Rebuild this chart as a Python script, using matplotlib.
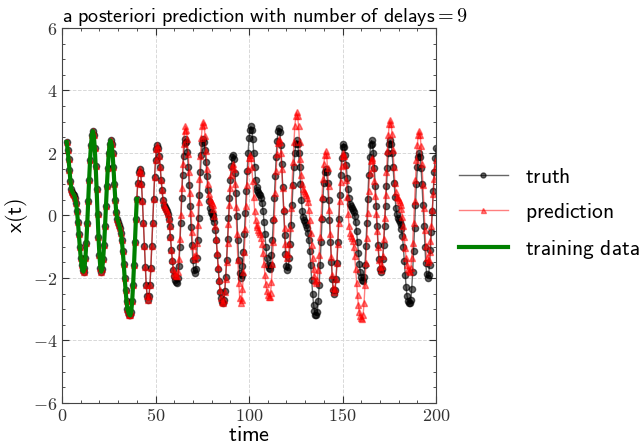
import numpy as np
import matplotlib
matplotlib.use('Agg')
import matplotlib.pyplot as plt
from matplotlib.ticker import MultipleLocator, FuncFormatter

plt.rcParams['mathtext.fontset'] = 'cm'

# sampling of the series
t_start = 2.5
dt = 0.5
t_end = 200.0

truth = [
    2.35, 2.1, 1.8, 1.45, 1.1, 0.85, 0.75, 0.7, 0.65, 0.55, 0.4, 0.15, -0.2, -0.6, -1.0, -1.35, -1.6, -1.75, -1.8,
    -1.69, -1.37, -0.87, -0.25, 0.45, 1.15, 1.77, 2.27, 2.59, 2.7,
    2.57, 2.17, 1.58, 0.84, 0.06, -0.68, -1.27, -1.67, -1.8,
    -1.7, -1.4, -0.93, -0.35, 0.3, 0.95, 1.53, 2.0, 2.3, 2.4,
    2.3, 2.0, 1.55, 1.0, 0.5, 0.1, -0.1, -0.2, -0.3, -0.4, -0.55, -0.8, -1.15, -1.55, -2.0, -2.4, -2.75, -3.0, -3.1, -3.18, -3.2,
    -3.09, -2.75, -2.23, -1.58, -0.85, -0.12, 0.53, 1.05, 1.39, 1.5,
    1.37, 1.01, 0.45, -0.23, -0.97, -1.65, -2.21, -2.57, -2.7,
    -2.58, -2.23, -1.68, -0.99, -0.23, 0.54, 1.23, 1.78, 2.13, 2.25,
    2.15, 1.9, 1.55, 1.15, 0.8, 0.5, 0.35, 0.28, 0.22, 0.15, 0.05, -0.1, -0.35, -0.7, -1.1, -1.45, -1.75, -1.95, -2.08, -2.13, -2.15,
    -2.01, -1.61, -1.0, -0.25, 0.55, 1.3, 1.91, 2.31, 2.45,
    2.35, 2.04, 1.56, 0.97, 0.3, -0.37, -0.96, -1.44, -1.75, -1.85,
    -1.72, -1.35, -0.78, -0.07, 0.67, 1.38, 1.95, 2.32, 2.45,
    2.35, 2.1, 1.7, 1.25, 0.8, 0.45, 0.25, 0.12, 0.05, 0.0, -0.08, -0.2, -0.45, -0.8, -1.25, -1.7, -2.1, -2.45, -2.65, -2.77, -2.8,
    -2.71, -2.43, -1.98, -1.41, -0.76, -0.09, 0.56, 1.13, 1.57, 1.86, 1.95,
    1.8, 1.37, 0.73, -0.03, -0.78, -1.42, -1.85, -2.0,
    -1.9, -1.62, -1.16, -0.58, 0.08, 0.77, 1.43, 2.01, 2.47, 2.75, 2.85,
    2.75, 2.45, 2.0, 1.55, 1.15, 0.9, 0.8, 0.75, 0.7, 0.65, 0.55, 0.4, 0.15, -0.2, -0.6, -1.0, -1.35, -1.57, -1.67, -1.7,
    -1.59, -1.27, -0.77, -0.15, 0.55, 1.25, 1.87, 2.37, 2.69, 2.8,
    2.66, 2.27, 1.66, 0.92, 0.13, -0.61, -1.22, -1.61, -1.75,
    -1.65, -1.36, -0.9, -0.32, 0.33, 0.97, 1.54, 2.01, 2.3, 2.4,
    2.3, 2.0, 1.55, 1.0, 0.5, 0.15, -0.05, -0.15, -0.22, -0.3, -0.4, -0.55, -0.8, -1.15, -1.6, -2.05, -2.5, -2.85, -3.07, -3.17, -3.2,
    -3.09, -2.75, -2.23, -1.58, -0.85, -0.12, 0.53, 1.05, 1.39, 1.5,
    1.38, 1.03, 0.5, -0.15, -0.85, -1.5, -2.03, -2.38, -2.5,
    -2.38, -2.04, -1.51, -0.84, -0.1, 0.64, 1.31, 1.84, 2.18, 2.3,
    2.2, 1.95, 1.6, 1.2, 0.85, 0.55, 0.38, 0.3, 0.24, 0.18, 0.1, -0.02, -0.2, -0.5, -0.85, -1.2, -1.55, -1.8, -1.98, -2.07, -2.1,
    -1.97, -1.57, -0.98, -0.24, 0.54, 1.28, 1.87, 2.27, 2.4,
    2.3, 2.0, 1.53, 0.95, 0.3, -0.35, -0.93, -1.4, -1.7, -1.8,
    -1.7, -1.4, -0.93, -0.35, 0.3, 0.95, 1.53, 2.0, 2.3, 2.4,
    2.3, 2.0, 1.55, 1.05, 0.6, 0.25, 0.05, -0.08, -0.15, -0.22, -0.3, -0.42, -0.65, -1.0, -1.45, -1.9, -2.3, -2.58, -2.73, -2.79, -2.8,
    -2.69, -2.34, -1.81, -1.14, -0.4, 0.34, 1.01, 1.54, 1.88, 2.0,
    1.88, 1.53, 1.0, 0.35, -0.35, -1.0, -1.53, -1.88, -2.0,
    -1.9, -1.6, -1.12, -0.53, 0.13, 0.78, 1.38, 1.85, 2.15,
]

# prediction follows the truth exactly until t = 59, then drifts away
t_split = 59.0
prediction_tail = [
    -1.42, -1.7, -1.85, -1.92, -1.95, -1.95,
    -1.81, -1.39, -0.75, 0.03, 0.87, 1.65, 2.29, 2.71, 2.85,
    2.75, 2.45, 1.97, 1.38, 0.73, 0.07, -0.52, -0.99, -1.3, -1.4,
    -1.27, -0.89, -0.3, 0.42, 1.18, 1.9, 2.49, 2.87, 3.0,
    2.88, 2.55, 2.05, 1.5, 1.0, 0.7, 0.52, 0.45, 0.4, 0.33, 0.2, -0.02, -0.35, -0.75, -1.2, -1.65, -2.05, -2.4, -2.63, -2.76, -2.8,
    -2.71, -2.45, -2.03, -1.5, -0.89, -0.26, 0.35, 0.88, 1.3, 1.56, 1.65,
    1.48, 1.0, 0.27, -0.58, -1.42, -2.15, -2.63, -2.8,
    -2.69, -2.35, -1.82, -1.16, -0.43, 0.31, 0.97, 1.5, 1.84, 1.95,
    1.85, 1.55, 1.1, 0.6, 0.15, -0.15, -0.3, -0.38, -0.45, -0.52, -0.6, -0.72, -0.92, -1.2, -1.55, -1.9, -2.2, -2.42, -2.55, -2.6, -2.6,
    -2.48, -2.12, -1.56, -0.86, -0.08, 0.71, 1.41, 1.97, 2.33, 2.45,
    2.34, 2.01, 1.5, 0.88, 0.22, -0.4, -0.91, -1.24, -1.35,
    -1.24, -0.91, -0.39, 0.25, 0.98, 1.7, 2.34, 2.86, 3.19, 3.3,
    3.18, 2.85, 2.35, 1.8, 1.3, 1.0, 0.85, 0.77, 0.72, 0.66, 0.57, 0.42, 0.18, -0.15, -0.55, -0.95, -1.35, -1.7, -1.95, -2.1, -2.15,
    -2.05, -1.75, -1.28, -0.7, -0.05, 0.6, 1.18, 1.65, 1.95, 2.05,
    1.92, 1.52, 0.93, 0.19, -0.59, -1.33, -1.92, -2.32, -2.45,
    -2.34, -2.03, -1.53, -0.91, -0.23, 0.46, 1.08, 1.58, 1.89, 2.0,
    1.9, 1.6, 1.15, 0.6, 0.05, -0.35, -0.55, -0.65, -0.72, -0.82, -1.0, -1.3, -1.7, -2.15, -2.55, -2.88, -3.1, -3.22, -3.28, -3.3,
    -3.18, -2.81, -2.24, -1.52, -0.73, 0.07, 0.79, 1.36, 1.73, 1.85,
    1.76, 1.51, 1.11, 0.61, 0.05, -0.51, -1.01, -1.41, -1.66, -1.75,
    -1.63, -1.29, -0.76, -0.09, 0.65, 1.39, 2.06, 2.59, 2.93, 3.05,
    2.93, 2.6, 2.1, 1.55, 1.05, 0.75, 0.6, 0.55, 0.5, 0.44, 0.35, 0.2, -0.05, -0.35, -0.7, -1.05, -1.35, -1.58, -1.72, -1.78, -1.8,
    -1.69, -1.37, -0.87, -0.25, 0.45, 1.15, 1.77, 2.27, 2.59, 2.7,
    2.57, 2.21, 1.65, 0.97, 0.23, -0.45, -0.99, -1.37, -1.5,
    -1.42, -1.18, -0.81, -0.34, 0.18, 0.69, 1.16, 1.53, 1.77,
]

# training window
train_end = 40.0

t = np.arange(t_start, t_end + dt / 2, dt)
n_split = int(round((t_split - t_start) / dt))
prediction = truth[:n_split] + prediction_tail
n_train = int(round((train_end - t_start) / dt)) + 1

fig = plt.figure(figsize=(6.42, 4.45), dpi=100)
ax = fig.add_axes([0.0966, 0.0944, 0.5826, 0.8427])

ax.plot(t, truth, 'o-', color='black', alpha=0.6, linewidth=1, markersize=4.5, label=r'$\mathsf{truth}$')
ax.plot(t, prediction, '^-', color='red', alpha=0.5, linewidth=1, markersize=4.5, label=r'$\mathsf{prediction}$')
ax.plot(t[:n_train], truth[:n_train], '-', color='green', linewidth=3, label=r'$\mathsf{training\ data}$')

ax.set_xlim(0, 200)
ax.set_ylim(-6, 6)
ax.xaxis.set_major_locator(MultipleLocator(50))
ax.xaxis.set_minor_locator(MultipleLocator(10))
ax.yaxis.set_major_locator(MultipleLocator(2))
ax.yaxis.set_minor_locator(MultipleLocator(0.5))
fmt = FuncFormatter(lambda v, p: '$%g$' % v)
ax.xaxis.set_major_formatter(fmt)
ax.yaxis.set_major_formatter(fmt)
ax.tick_params(which='both', direction='in', top=True, right=True, labelsize=13, colors='#333333')
ax.tick_params(which='major', length=5)
ax.tick_params(which='minor', length=2.5)
ax.tick_params(axis='x', pad=3)
for s in ax.spines.values():
    s.set_color('#444444')
ax.grid(True, which='major', linestyle='--', color='#d8d8d8', linewidth=0.7)

ax.set_xlabel(r'$\mathsf{time}$', fontsize=16, labelpad=0)
ax.set_ylabel(r'$\mathsf{x(t)}$', fontsize=16, labelpad=2)
ax.set_title(r'$\mathsf{a\ posteriori\ prediction\ with\ number\ of\ delays} = \mathsf{9}$',
             fontsize=14.5, loc='left', pad=3)

ax.legend(loc='center left', bbox_to_anchor=(1.01, 0.505), frameon=False, fontsize=15.5,
          markerscale=0.8, handlelength=2.25, handletextpad=0.8, labelspacing=0.65)

fig.savefig('out.png', dpi=100)
